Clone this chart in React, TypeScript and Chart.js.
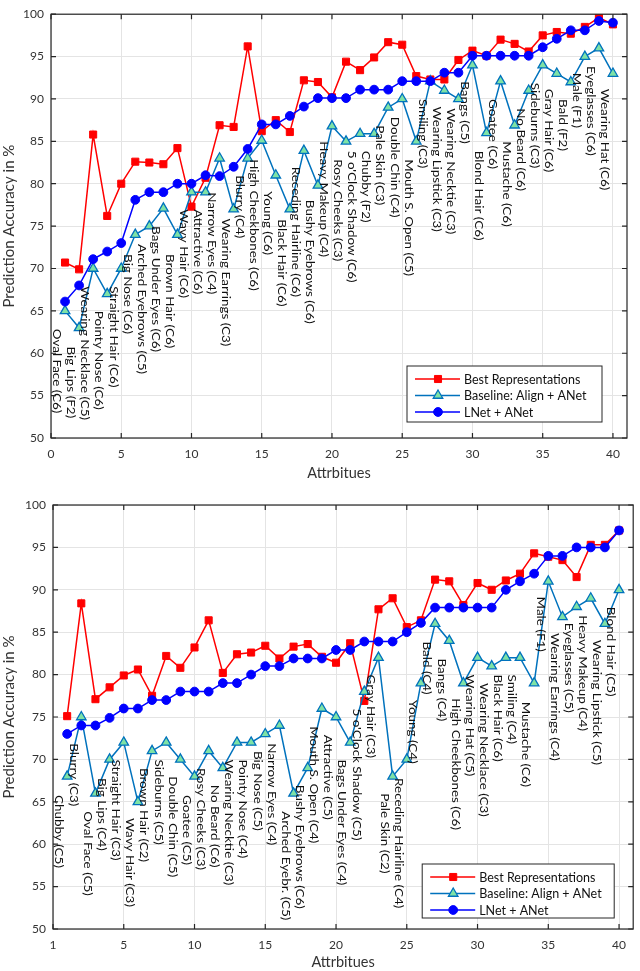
import React, { useEffect, useRef } from "react";
import { Chart, registerables } from "chart.js";

Chart.register(...registerables);

// ---------------- data ----------------
const attributeIndex = [1, 2, 3, 4, 5, 6, 7, 8, 9, 10, 11, 12, 13, 14, 15, 16, 17, 18, 19, 20, 21, 22, 23, 24, 25, 26, 27, 28, 29, 30, 31, 32, 33, 34, 35, 36, 37, 38, 39, 40];

const seriesNames = ["Best Representations", "Baseline: Align + ANet", "LNet + ANet"];

// Top panel
const topBest = [70.7, 69.9, 85.8, 76.2, 80.0, 82.6, 82.5, 82.3, 84.2, 77.3, 80.7, 86.9, 86.7, 96.2, 86.2, 87.5, 86.1, 92.2, 92.0, 90.2, 94.4, 93.4, 94.9, 96.7, 96.4, 92.7, 92.3, 92.3, 94.6, 95.7, 95.1, 97.0, 96.5, 95.6, 97.5, 97.9, 97.7, 98.5, 99.6, 98.8];
const topBaseline = [65, 63, 70, 67, 70, 74, 75, 77.1, 74, 79, 79, 83, 77, 83, 85.1, 81, 77, 83.9, 79.8, 86.8, 85, 85.9, 85.9, 89, 90, 85, 92.1, 91, 90, 94, 86, 92.1, 86.9, 91, 94, 93, 92, 95, 96, 93];
const topLNet = [66.1, 68.0, 71.1, 72.0, 73.0, 78.1, 79.0, 79.0, 80.0, 80.0, 81.0, 80.9, 82.0, 84.1, 87.0, 87.0, 88.0, 89.1, 90.1, 90.1, 90.1, 91.1, 91.1, 91.1, 92.1, 92.1, 92.1, 93.1, 93.1, 95.1, 95.1, 95.1, 95.1, 95.1, 96.1, 97.1, 98.1, 98.1, 99.2, 99.0];
const topLabels = [
  "Oval Face (C6)", "Big Lips (F2)", "Wearing Necklace (C5)", "Pointy Nose (C6)", "Straight Hair (C6)",
  "Big Nose (C6)", "Arched Eyebrows (C5)", "Bags Under Eyes (C6)", "Brown Hair (C6)", "Wavy Hair (C6)",
  "Attractive (C6)", "Narrow Eyes (C4)", "Wearing Earrings (C3)", "Blurry (C4)", "High Cheekbones (C6)",
  "Young (C6)", "Black Hair (C6)", "Receding Hairline (C6)", "Bushy Eyebrows (C6)", "Heavy Makeup (C4)",
  "Rosy Cheeks (C3)", "5 o'Clock Shadow (C6)", "Chubby (F2)", "Pale Skin (C3)", "Double Chin (C4)",
  "Mouth S. Open (C5)", "Smiling (C3)", "Wearing Lipstick (C3)", "Wearing Necktie (C3)", "Bangs (C5)",
  "Blond Hair (C6)", "Goatee (C6)", "Mustache (C6)", "No Beard (C6)", "Sideburns (C3)",
  "Gray Hair (C6)", "Bald (F2)", "Male (F1)", "Eyeglasses (C6)", "Wearing Hat (C6)",
];
// value (in %) at which each rotated label starts
const topLabelStart = [62.9, 60.8, 67.9, 65.0, 67.9, 71.7, 72.9, 75.0, 71.7, 77.0, 77.0, 79.0, 75.9, 81.0, 82.9, 79.1, 75.8, 82.0, 78.1, 85.0, 82.9, 83.9, 83.9, 86.9, 87.9, 82.9, 90.0, 89.1, 88.9, 92.1, 83.9, 90.0, 85.0, 88.9, 91.9, 91.2, 90.0, 93.1, 93.9, 91.2];

// Bottom panel
const bottomBest = [75.1, 88.4, 77.1, 78.5, 79.9, 80.6, 77.5, 82.2, 80.8, 83.2, 86.4, 80.2, 82.4, 82.6, 83.4, 81.9, 83.3, 83.6, 82.1, 81.4, 83.7, 76.9, 87.7, 89.0, 85.6, 86.4, 91.2, 91.0, 88.2, 90.8, 90.0, 91.1, 91.9, 94.3, 93.9, 93.5, 91.5, 95.3, 95.3, 97.0];
const bottomBaseline = [68, 75, 66, 70, 72, 65, 71, 72, 70, 68, 71, 69, 72, 72, 73, 74, 66, 69, 76, 75, 72, 78, 82, 68, 70, 79, 86, 84, 79, 82, 81, 82, 82, 79, 91, 86.8, 88, 89, 86, 90];
const bottomLNet = [73.0, 74.0, 74.0, 74.9, 76.0, 76.0, 77.0, 77.0, 78.0, 78.0, 78.0, 79.0, 79.0, 80.0, 81.0, 81.0, 81.9, 81.9, 81.9, 82.9, 82.9, 83.9, 83.9, 83.9, 85.0, 86.1, 87.9, 87.9, 87.9, 87.9, 87.9, 90.0, 91.0, 91.9, 94.0, 94.0, 95.0, 95.0, 95.0, 97.0];
const bottomLabels = [
  "Chubby (C5)", "Blurry (C3)", "Oval Face (C5)", "Big Lips (C4)", "Straight Hair (C3)",
  "Wavy Hair (C3)", "Brown Hair (C2)", "Sideburns (C5)", "Double Chin (C5)", "Goatee (C5)",
  "Rosy Cheeks (C3)", "No Beard (C6)", "Wearing Necktie (C3)", "Pointy Nose (C4)", "Big Nose (C5)",
  "Narrow Eyes (C4)", "Arched Eyebr. (C5)", "Bushy Eyebrows (C6)", "Mouth S. Open (C4)", "Attractive (C5)",
  "Bags Under Eyes (C4)", "5 o'Clock Shadow (C5)", "Gray Hair (C3)", "Pale Skin (C2)", "Receding Hairline (C4)",
  "Young (C4)", "Bald (C4)", "Bangs (C4)", "High Cheekbones (C6)", "Wearing Hat (C5)",
  "Wearing Necklace (C3)", "Black Hair (C6)", "Smiling (C4)", "Mustache (C6)", "Male (F1)",
  "Wearing Earrings (C4)", "Eyeglasses (C5)", "Heavy Makeup (C4)", "Wearing Lipstick (C5)", "Blond Hair (C5)",
];
const bottomLabelStart = [65.8, 71.9, 63.9, 67.8, 70.0, 63.1, 69.0, 70.0, 68.0, 65.8, 69.0, 67.0, 70.0, 70.0, 71.0, 71.9, 63.9, 67.0, 73.9, 72.9, 70.0, 76.0, 80.0, 66.0, 67.8, 77.0, 83.9, 81.9, 77.2, 80.0, 79.0, 80.0, 80.0, 76.8, 89.2, 84.9, 86.1, 87.0, 84.1, 88.0];

// Axis ticks
const xTickValues = [0, 5, 10, 15, 20, 25, 30, 35, 40];
const topXTickLabels = ["0", "5", "10", "15", "20", "25", "30", "35", "40"];
const bottomXTickLabels = ["1", "5", "10", "15", "20", "25", "30", "35", "40"];
const yTickValues = [50, 55, 60, 65, 70, 75, 80, 85, 90, 95, 100];
const xTitle = "Attrbitues";
const yTitle = "Prediction Accuracy in %";

// ---------------- styles ----------------
const FONT = "Lato, 'Noto Sans', sans-serif";
const AXIS_COLOR = "#262626";
const GRID_COLOR = "#e4e4e4";
const RED = "#ff0000";
const BASE_LINE = "#0072bd";
const BASE_FILL = "#7ee2a6";
const BLUE = "#0000ff";

function drawMarker(ctx: CanvasRenderingContext2D, style: string, x: number, y: number, r: number, fill: string, stroke: string, lw: number) {
  ctx.save();
  ctx.beginPath();
  if (style === "rect") {
    const s = Math.SQRT1_2 * r;
    ctx.rect(x - s, y - s, 2 * s, 2 * s);
  } else if (style === "triangle") {
    const a = (2 * Math.PI) / 3;
    ctx.moveTo(x, y - r);
    ctx.lineTo(x + Math.sin(a) * r, y - Math.cos(a) * r);
    ctx.lineTo(x + Math.sin(2 * a) * r, y - Math.cos(2 * a) * r);
    ctx.closePath();
  } else {
    ctx.arc(x, y, r, 0, Math.PI * 2);
  }
  ctx.fillStyle = fill;
  ctx.fill();
  ctx.lineWidth = lw;
  ctx.strokeStyle = stroke;
  ctx.stroke();
  ctx.restore();
}

function makePlugins(labels: string[], starts: number[], legendRight: number, legendBottom: number, legendW: number, legendH: number) {
  const frame = {
    id: "frame",
    afterDatasetsDraw(chart: any) {
      const { ctx, chartArea: a, scales } = chart;
      const xs = scales.x;
      const ys = scales.y;
      ctx.save();
      // rotated labels
      ctx.fillStyle = "#111";
      ctx.font = `11.5px ${FONT}`;
      ctx.textAlign = "left";
      ctx.textBaseline = "middle";
      labels.forEach((t, i) => {
        const px = xs.getPixelForValue(attributeIndex[i]) - 8;
        const py = ys.getPixelForValue(starts[i]);
        ctx.save();
        ctx.translate(px, py);
        ctx.rotate(Math.PI / 2);
        ctx.scale(1.17, 1);
        ctx.fillText(t, 0, 0);
        ctx.restore();
      });
      // frame and inward ticks
      ctx.strokeStyle = AXIS_COLOR;
      ctx.lineWidth = 1.2;
      ctx.strokeRect(a.left, a.top, a.right - a.left, a.bottom - a.top);
      ctx.beginPath();
      xTickValues.forEach((v) => {
        const px = xs.getPixelForValue(v);
        ctx.moveTo(px, a.bottom);
        ctx.lineTo(px, a.bottom - 5);
        ctx.moveTo(px, a.top);
        ctx.lineTo(px, a.top + 5);
      });
      yTickValues.forEach((v) => {
        const py = ys.getPixelForValue(v);
        ctx.moveTo(a.left, py);
        ctx.lineTo(a.left + 5, py);
        ctx.moveTo(a.right, py);
        ctx.lineTo(a.right - 5, py);
      });
      ctx.stroke();
      // legend
      const bx = a.right - legendRight - legendW;
      const by = a.bottom - legendBottom - legendH;
      ctx.fillStyle = "#fff";
      ctx.fillRect(bx, by, legendW, legendH);
      ctx.lineWidth = 1;
      ctx.strokeRect(bx, by, legendW, legendH);
      ctx.font = `12.5px ${FONT}`;
      ctx.textBaseline = "middle";
      chart.data.datasets.forEach((ds: any, i: number) => {
        const ry = by + 13 + i * 16.5;
        ctx.beginPath();
        ctx.strokeStyle = ds.borderColor;
        ctx.lineWidth = 1.5;
        ctx.moveTo(bx + 8, ry);
        ctx.lineTo(bx + 53, ry);
        ctx.stroke();
        drawMarker(ctx, ds.pointStyle, bx + 31, ry, ds.pointRadius, ds.pointBackgroundColor, ds.pointBorderColor, ds.pointBorderWidth);
        ctx.fillStyle = "#111";
        ctx.fillText(ds.label, bx + 57, ry + 0.5);
      });
      ctx.restore();
    },
  };
  return [frame];
}

function makeConfig(opts: {
  best: number[]; baseline: number[]; lnet: number[];
  labels: string[]; starts: number[]; xLabels: string[];
  padTop: number; padRight: number; yWidth: number; xHeight: number; xTitlePad: number;
  legendRight: number; legendBottom: number; legendW: number; legendH: number;
}): any {
  const pts = (arr: number[]) => attributeIndex.map((x, i) => ({ x, y: arr[i] }));
  return {
    type: "line",
    data: {
      datasets: [
        {
          label: seriesNames[0], data: pts(opts.best), order: 3,
          borderColor: RED, backgroundColor: RED, borderWidth: 1.5,
          pointStyle: "rect", pointRadius: 5, pointBackgroundColor: RED, pointBorderColor: RED, pointBorderWidth: 1,
        },
        {
          label: seriesNames[1], data: pts(opts.baseline), order: 2,
          borderColor: BASE_LINE, backgroundColor: BASE_FILL, borderWidth: 1.5,
          pointStyle: "triangle", pointRadius: 5.5, pointBackgroundColor: BASE_FILL, pointBorderColor: BASE_LINE, pointBorderWidth: 1.3,
        },
        {
          label: seriesNames[2], data: pts(opts.lnet), order: 1,
          borderColor: BLUE, backgroundColor: BLUE, borderWidth: 1.5,
          pointStyle: "circle", pointRadius: 4.4, pointBackgroundColor: BLUE, pointBorderColor: BLUE, pointBorderWidth: 1,
        },
      ],
    },
    options: {
      responsive: false,
      animation: false,
      devicePixelRatio: 1,
      layout: { padding: { left: 0, top: opts.padTop, right: opts.padRight, bottom: 0 } },
      plugins: { legend: { display: false }, tooltip: { enabled: false } },
      elements: { line: { tension: 0 } },
      scales: {
        x: {
          type: "linear", min: 0, max: 41,
          afterFit: (s: any) => { s.height = opts.xHeight; },
          grid: { color: GRID_COLOR, drawTicks: false, lineWidth: 1 },
          border: { display: false },
          afterBuildTicks: (s: any) => { s.ticks = xTickValues.map((v) => ({ value: v })); },
          ticks: {
            padding: 9, color: "#333", font: { family: FONT, size: 12 }, maxRotation: 0, autoSkip: false,
            callback: (v: number) => { const k = xTickValues.indexOf(v); return k >= 0 ? opts.xLabels[k] : ""; },
          },
          title: { display: true, text: xTitle, color: "#333", font: { family: FONT, size: 14.5 }, padding: { top: 0, bottom: opts.xTitlePad } },
        },
        y: {
          type: "linear", min: 50, max: 100,
          afterFit: (s: any) => { s.width = opts.yWidth; },
          grid: { color: GRID_COLOR, drawTicks: false, lineWidth: 1 },
          border: { display: false },
          afterBuildTicks: (s: any) => { s.ticks = yTickValues.map((v) => ({ value: v })); },
          ticks: { padding: 7, color: "#333", font: { family: FONT, size: 12 } },
          title: { display: true, text: yTitle, color: "#333", font: { family: FONT, size: 15 }, padding: { top: 0, bottom: 0 } },
        },
      },
    },
    plugins: makePlugins(opts.labels, opts.starts, opts.legendRight, opts.legendBottom, opts.legendW, opts.legendH),
  };
}

function Panel({ config, width, height, top }: { config: any; width: number; height: number; top: number }) {
  const ref = useRef<HTMLCanvasElement | null>(null);
  useEffect(() => {
    const chart = new Chart(ref.current as HTMLCanvasElement, config);
    return () => chart.destroy();
  }, []);
  return (
    <canvas
      ref={ref}
      width={width}
      height={height}
      style={{ position: "absolute", left: 0, top, width, height, display: "block" }}
    />
  );
}

export default function App() {
  const topConfig = makeConfig({
    best: topBest, baseline: topBaseline, lnet: topLNet,
    labels: topLabels, starts: topLabelStart, xLabels: topXTickLabels,
    padTop: 3, padRight: 13, yWidth: 51, xHeight: 52, xTitlePad: 7.5,
    legendRight: 25, legendBottom: 16, legendW: 195, legendH: 56,
  });
  const bottomConfig = makeConfig({
    best: bottomBest, baseline: bottomBaseline, lnet: bottomLNet,
    labels: bottomLabels, starts: bottomLabelStart, xLabels: bottomXTickLabels,
    padTop: 15, padRight: 2, yWidth: 53, xHeight: 42, xTitlePad: 0,
    legendRight: 19, legendBottom: 11, legendW: 192, legendH: 54,
  });
  return (
    <div style={{ position: "absolute", left: 0, top: 0, width: 640, height: 971, background: "#fff" }}>
      <Panel config={topConfig} width={640} height={490} top={0} />
      <Panel config={bottomConfig} width={640} height={481} top={490} />
    </div>
  );
}
